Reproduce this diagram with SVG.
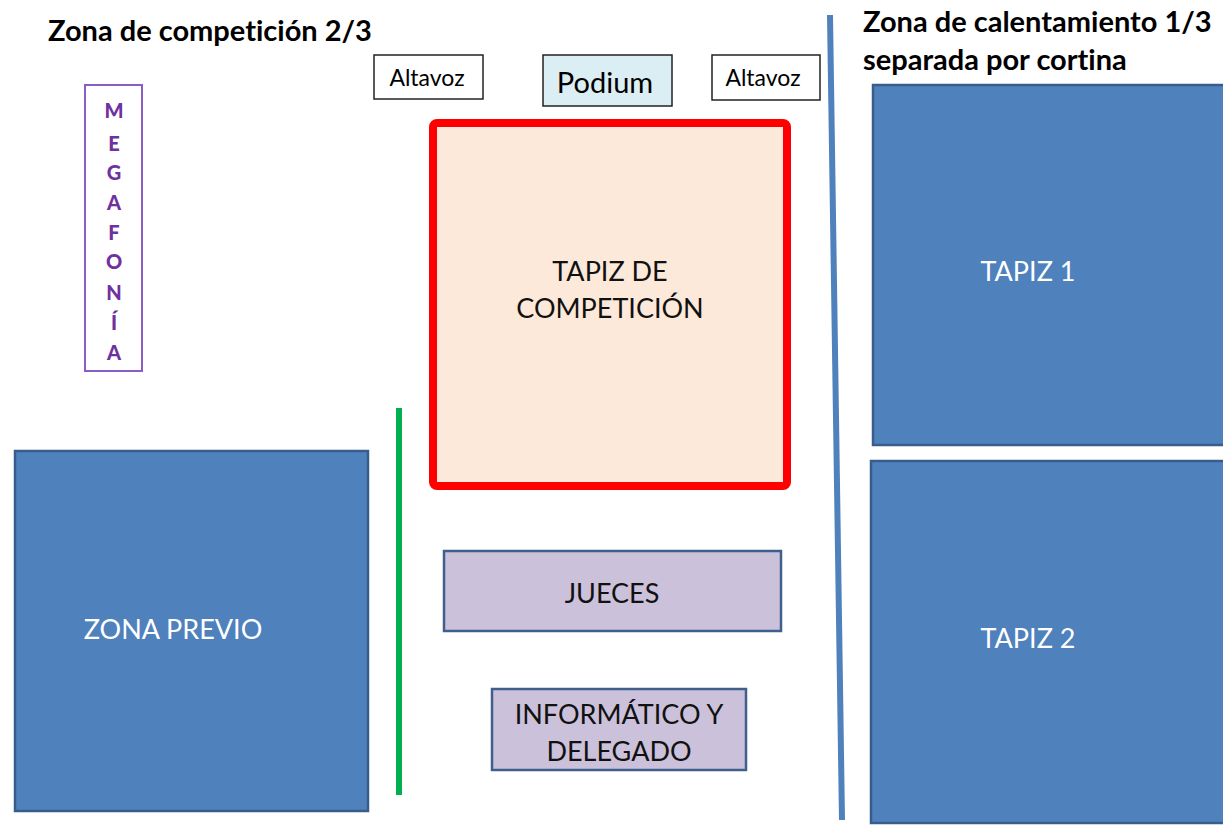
<svg xmlns="http://www.w3.org/2000/svg" width="1223" height="827" viewBox="0 0 1223 827">
<style>
text{font-family:Lato,"Open Sans","Liberation Sans",sans-serif;text-anchor:middle;dominant-baseline:central;font-variant-ligatures:none;font-feature-settings:"liga" 0}
.title{font-weight:bold;font-size:29px;fill:#000;text-anchor:start;dominant-baseline:auto}
.blue{fill:#4f81bd;stroke:#385d8a;stroke-width:2.5}
.wt{fill:#fff;font-size:27px}
.lil{fill:#ccc1da;stroke:#3f5f8c;stroke-width:2.5}
.bt{fill:#111;font-size:27px}
.spk{fill:#fff;stroke:#222;stroke-width:1.5}
.meg{fill:#7030a0;font-weight:900;font-size:20px}
</style>
<rect width="1223" height="827" fill="#fff"/>
<text class="title" x="48" y="41">Zona de competición 2/3</text>
<text class="title" x="863" y="32">Zona de calentamiento 1/3</text>
<text class="title" x="863" y="70">separada por cortina</text>
<g id="lines">
<line x1="830" y1="15" x2="842" y2="820" stroke="#4f81bd" stroke-width="6"/>
<line x1="399" y1="408" x2="399" y2="795" stroke="#00b050" stroke-width="6"/>
</g>
<g id="altavoz1"><rect class="spk" x="374" y="55" width="109" height="44"/><text x="427" y="77" style="font-size:23px">Altavoz</text></g>
<g id="podium"><rect x="543" y="55" width="129" height="51" fill="#dbeef4" stroke="#222" stroke-width="1.5"/><text x="605" y="81" style="font-size:29px">Podium</text></g>
<g id="altavoz2"><rect class="spk" x="712" y="55" width="108" height="45"/><text x="763" y="77" style="font-size:23px">Altavoz</text></g>
<g id="megafonia"><rect x="85" y="85" width="57" height="286" fill="#fff" stroke="#8a5cc8" stroke-width="2"/>
<text class="meg" x="114" y="110">M</text><text class="meg" x="114" y="143">E</text><text class="meg" x="114" y="172">G</text><text class="meg" x="114" y="202">A</text><text class="meg" x="114" y="232">F</text><text class="meg" x="114" y="261">O</text><text class="meg" x="114" y="292">N</text><text class="meg" x="114" y="322">Í</text><text class="meg" x="114" y="352">A</text></g>
<g id="tapiz-competicion"><rect x="433" y="123" width="354" height="363" rx="4" fill="#fde9d9" stroke="#ff0000" stroke-width="8"/><text class="bt" x="610" y="270">TAPIZ DE</text><text class="bt" x="610" y="307">COMPETICIÓN</text></g>
<g id="zona-previo"><rect class="blue" x="15" y="451" width="353" height="360"/><text class="wt" x="173" y="628">ZONA PREVIO</text></g>
<g id="tapiz1"><rect class="blue" x="873" y="85" width="355" height="360"/><text class="wt" x="1028" y="270">TAPIZ 1</text></g>
<g id="tapiz2"><rect class="blue" x="871" y="461" width="357" height="362"/><text class="wt" x="1028" y="637">TAPIZ 2</text></g>
<g id="jueces"><rect class="lil" x="444" y="551" width="337" height="80"/><text class="bt" x="612" y="592">JUECES</text></g>
<g id="informatico"><rect class="lil" x="492" y="689" width="254" height="81"/><text class="bt" x="619" y="713">INFORMÁTICO Y</text><text class="bt" x="619" y="750">DELEGADO</text></g>
</svg>
